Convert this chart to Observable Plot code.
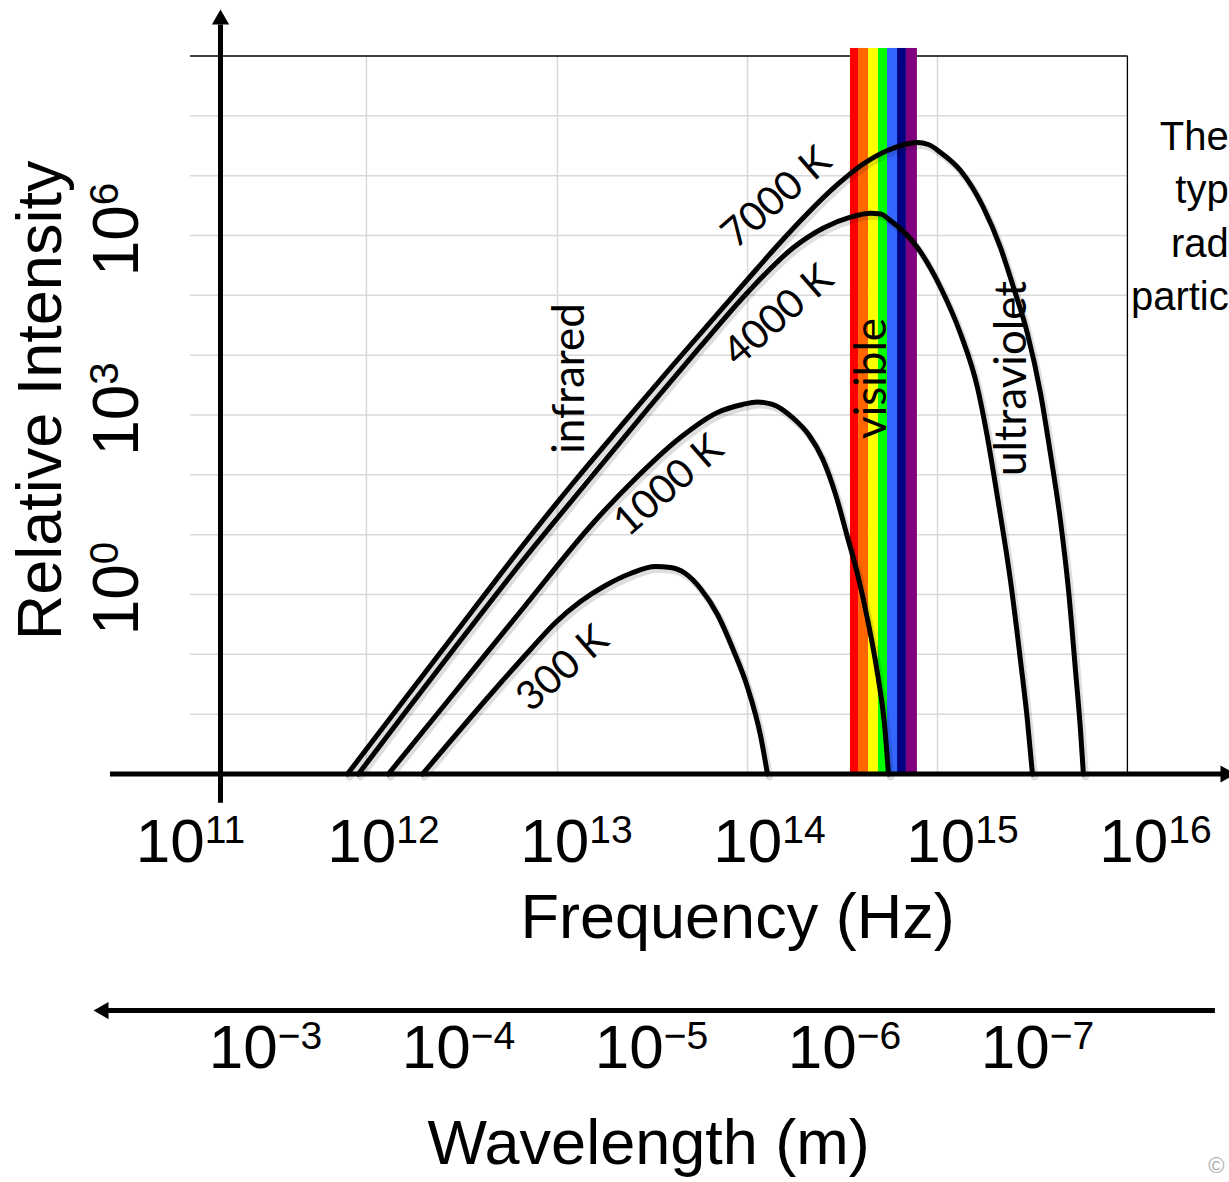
<!DOCTYPE html>
<html>
<head>
<meta charset="utf-8">
<script src="https://cdn.jsdelivr.net/npm/d3@7"></script>
<script src="https://cdn.jsdelivr.net/npm/@observablehq/plot@0.6"></script>
<style>
  html, body { margin: 0; padding: 0; background: #fff; overflow: hidden; }
  #chart svg { display: block; }
</style>
</head>
<body>
<div id="chart"></div>
<script>
// ---------- DATA (log10 values) ----------
const freqTickExp = [11, 12, 13, 14, 15, 16];          // frequency tick labels 10^k Hz
const intensityTickExp = [0, 3, 6];                     // intensity tick labels 10^k
const wavelengthTickExp = [-3, -4, -5, -6, -7];         // wavelength tick labels 10^k m
const temperatures = ["7000 K", "4000 K", "1000 K", "300 K"];

const logFreq7000 = [11.658, 11.933, 12.243, 12.554, 12.829, 13.073, 13.347, 13.591, 13.731, 13.886, 14.041, 14.197, 14.326, 14.456, 14.611, 14.668, 14.731, 14.834, 14.953, 15.041, 15.109, 15.181, 15.249, 15.300, 15.352, 15.394, 15.430, 15.456, 15.471];
const logInt7000  = [-3.0, -1.838, -0.535, 0.769, 1.872, 2.808, 3.844, 4.747, 5.265, 5.833, 6.368, 6.853, 7.187, 7.421, 7.555, 7.521, 7.388, 7.087, 6.468, 5.800, 5.131, 4.362, 3.360, 2.357, 1.237, 0.067, -1.270, -2.273, -3.0];

const logFreq4000 = [11.715, 11.933, 12.243, 12.554, 12.917, 13.228, 13.487, 13.731, 13.969, 14.124, 14.264, 14.368, 14.420, 14.471, 14.611, 14.731, 14.834, 14.922, 14.974, 15.026, 15.093, 15.145, 15.181, 15.207];
const logInt4000  = [-3.0, -2.072, -0.769, 0.518, 1.947, 3.159, 4.145, 5.048, 5.800, 6.126, 6.306, 6.373, 6.360, 6.251, 5.800, 5.131, 4.362, 3.460, 2.624, 1.621, 0.234, -1.103, -2.106, -3.0];

const logFreq1000 = [11.870, 12.192, 12.554, 12.933, 13.140, 13.383, 13.575, 13.705, 13.782, 13.860, 13.969, 14.047, 14.119, 14.187, 14.249, 14.300, 14.357, 14.404, 14.440, 14.461];
const logInt1000  = [-3.0, -1.721, -0.284, 1.204, 1.906, 2.624, 3.042, 3.176, 3.218, 3.176, 2.942, 2.674, 2.273, 1.672, 0.953, 0.351, -0.485, -1.320, -2.156, -3.0];

const logFreq300 = [12.047, 12.435, 12.606, 12.736, 12.865, 12.995, 13.124, 13.254, 13.332, 13.409, 13.487, 13.575, 13.658, 13.731, 13.798, 13.834];
const logInt300  = [-3.0, -1.538, -0.919, -0.468, -0.117, 0.151, 0.351, 0.468, 0.450, 0.351, 0.100, -0.334, -0.936, -1.554, -2.357, -3.0];

// visible band stripes (edges as log10 frequency) and their colours
const visibleEdgeExp = [14.264, 14.306, 14.358, 14.409, 14.456, 14.508, 14.554, 14.611];
const visibleColors = ["#FF0000", "#FF6600", "#FFFF00", "#00FF00", "#3366FF", "#000080", "#800080"];

// light grid
const gridFreqExp = [11.756, 12.746, 13.731, 14.715];
const gridIntExp = [-2, -1, 0, 1, 2, 3, 4, 5, 6, 7, 8];

const regionNames = ["infrared", "visible", "ultraviolet"];
const sideNoteLines = ["The", "typ", "rad", "partic"];   // fragments visible at the right edge
const SPEED_OF_LIGHT = 3e8;

// ---------- annotation anchors (log10 data coordinates) ----------
const tempLabelFreqExp = [13.881, 13.891, 13.321, 12.772];
const tempLabelIntExp  = [6.636, 4.663, 1.822, -1.237];
const regionFreqExp = [12.881, 14.446, 15.171];
const sideIntExp  = [7.421, 6.535, 5.649, 4.747];

// ---------- build tables ----------
const P = e => 10 ** e;
const series = [
  {T: "7000 K", f: logFreq7000, i: logInt7000},
  {T: "4000 K", f: logFreq4000, i: logInt4000},
  {T: "1000 K", f: logFreq1000, i: logInt1000},
  {T: "300 K",  f: logFreq300,  i: logInt300}
];
const curveData = series.flatMap(s => s.f.map((f, k) => ({T: s.T, nu: P(f), I: P(s.i[k])})));
const stripes = visibleColors.map((c, k) => ({a: visibleEdgeExp[k], b: visibleEdgeExp[k + 1], color: c}));

const FREQ_LO = 10.845, FREQ_HI = 15.699, RIGHT_EDGE = 16.224;
const sans = "'Liberation Sans', Arial, Helvetica, sans-serif";
const calibriLike = "Lato, 'Open Sans', sans-serif";

const svg = Plot.plot({
  width: 1229,
  height: 1182,
  margin: 0,
  style: {fontFamily: sans, background: "#fff", color: "#000"},
  x: {type: "log", domain: [1e11, 1e16], range: [220, 1185], axis: null},
  y: {type: "log", domain: [1e-3, 1e9], range: [773.5, 55.5], axis: null},
  color: {type: "identity"},
  marks: [
    // grid
    Plot.ruleX(gridFreqExp, {x: P, y1: () => P(-3), y2: () => P(9), stroke: "#d9d9d9", strokeWidth: 1.5}),
    Plot.ruleY(gridIntExp, {y: P, x1: () => P(FREQ_LO), x2: () => P(FREQ_HI), stroke: "#d9d9d9", strokeWidth: 1.5}),
    Plot.ruleY([9], {y: P, x1: () => P(FREQ_LO), x2: () => P(FREQ_HI), stroke: "#000", strokeWidth: 1.3}),
    Plot.ruleX([FREQ_HI], {x: P, y1: () => P(-3), y2: () => P(9), stroke: "#000", strokeWidth: 1.3}),
    // visible band
    Plot.rect(stripes, {x1: d => P(d.a), x2: d => P(d.b), y1: () => P(-3), y2: () => P(9.126), fill: "color"}),
    // curves (soft shadow, then line)
    Plot.line(curveData, {x: "nu", y: "I", z: "T", curve: "monotone-x", stroke: "#000", strokeOpacity: 0.13, strokeWidth: 7, dx: 2, dy: 3}),
    Plot.line(curveData, {x: "nu", y: "I", z: "T", curve: "monotone-x", stroke: "#000", strokeWidth: 5}),
    // frequency axis arrow
    Plot.ruleY([-3], {y: P, x1: () => P(10.43), x2: () => P(16.19), stroke: "#000", strokeWidth: 5}),
    Plot.dot([0], {x: () => P(16.207), y: () => P(-3), symbol: "triangle", r: 6.4, rotate: 90, fill: "#000", stroke: "none"}),
    // intensity axis arrow
    Plot.ruleX([11], {x: P, y1: () => P(-3.49), y2: () => P(9.52), stroke: "#000", strokeWidth: 5}),
    Plot.dot([0], {x: () => P(11), y: () => P(9.611), symbol: "triangle", r: 6.4, fill: "#000", stroke: "none"}),
    // wavelength axis arrow
    Plot.ruleY([-6.953], {y: P, x1: () => P(10.42), x2: () => P(16.155), stroke: "#000", strokeWidth: 5}),
    Plot.dot([0], {x: () => P(10.394), y: () => P(-6.953), symbol: "triangle", r: 6.4, rotate: -90, fill: "#000", stroke: "none"}),
    // tick labels
    Plot.text(freqTickExp, {x: P, y: () => P(-4.479), text: d => `10^${d}`, dx: -30, fontSize: 62, lineAnchor: "bottom", textAnchor: "middle"}),
    Plot.text(intensityTickExp, {x: () => P(10.575), y: P, text: d => `10^${d}`, rotate: -90, dy: -6, fontSize: 64, lineAnchor: "bottom", textAnchor: "middle"}),
    Plot.text(wavelengthTickExp, {x: d => SPEED_OF_LIGHT / P(d), y: () => P(-7.922), text: d => `10^\u2212${-d}`, dx: -47, fontSize: 62, lineAnchor: "bottom", textAnchor: "middle"}),
    // axis titles
    Plot.text(["Frequency (Hz)"], {x: () => P(13.679), y: () => P(-5.749), text: d => d, fontSize: 63, lineAnchor: "bottom"}),
    Plot.text(["Wavelength (m)"], {x: () => P(13.218), y: () => P(-9.510), text: d => d, fontSize: 63, lineAnchor: "bottom"}),
    Plot.text(["Relative Intensity"], {x: () => P(10.171), y: () => P(3.243), text: d => d, rotate: -90, fontSize: 63, lineAnchor: "bottom"}),
    // region labels
    Plot.text(regionNames, {x: (d, i) => P(regionFreqExp[i]), y: () => P(3.610), text: d => d, rotate: -90, fontFamily: calibriLike, fontSize: 44, lineAnchor: "bottom"}),
    // temperature labels
    Plot.text(temperatures, {x: (d, i) => P(tempLabelFreqExp[i]), y: (d, i) => P(tempLabelIntExp[i]), text: d => d, rotate: -41, fontFamily: calibriLike, fontSize: 40, lineAnchor: "middle"}),
    // side note fragments at the right edge
    Plot.text(sideNoteLines, {x: () => P(RIGHT_EDGE), y: (d, i) => P(sideIntExp[i]), text: d => d, textAnchor: "end", lineAnchor: "bottom", fontSize: 40}),
    Plot.text(["\u00A9"], {x: () => P(16.202), y: () => P(-9.661), text: d => d, textAnchor: "end", lineAnchor: "bottom", fontSize: 22, fill: "#aaa"})
  ]
});

// turn "10^k" into base + superscript
d3.select(svg).selectAll("text").each(function () {
  const t = this.textContent;
  const m = t.match(/^(.*)\^(.*)$/);
  if (!m) return;
  this.textContent = m[1];
  d3.select(this).append("tspan").attr("font-size", "63%").attr("dy", "-0.5em").text(m[2]);
});

document.getElementById("chart").appendChild(svg);
</script>
</body>
</html>
